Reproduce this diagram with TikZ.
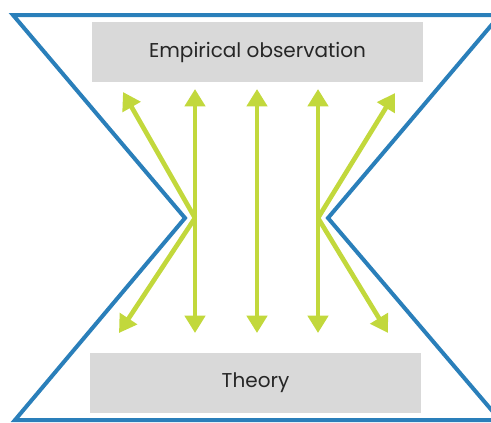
\documentclass[tikz,border=0pt]{standalone}
\usepackage{fontspec}
\setmainfont{Poppins}
\usetikzlibrary{arrows.meta}
\definecolor{frameblue}{HTML}{2A7FBA}
\definecolor{linkgreen}{HTML}{C2D83C}
\definecolor{boxgrey}{HTML}{D9D9D9}

\begin{document}
\begin{tikzpicture}[x=0.75pt, y=-0.75pt,
    >={Triangle[length=13pt, width=15pt]},
    frame/.style={draw=frameblue, line width=3pt},
    labelbox/.style={fill=boxgrey, minimum width=248pt, minimum height=45pt, inner sep=0pt,
        text=black!85, font=\fontsize{15}{17}\selectfont},
    link/.style={draw=linkgreen, line width=3.5pt}]
    \clip (0,0) rectangle (491,422);
    % hourglass outline
    \draw[frame] (13,15) -- (500,15) -- (328,218) -- (500,420) -- (15,420) -- (185,218) -- cycle;
    \node[labelbox] (obs) at (257.5,52) {Empirical observation};
    \node[labelbox] (theory) at (255.5,383) {Theory};
    % vertical two-way arrows
    \foreach \x [count=\i] in {195,257,318} {
        \coordinate (top\i) at (\x,89);
        \coordinate (bot\i) at (\x,333);
        \draw[link, <->] (top\i) -- (bot\i);
    }
    % diagonal arrows
    \coordinate (lhub) at (195,218);
    \coordinate (rhub) at (318,218);
    \coordinate (lup) at (123,92);
    \coordinate (llo) at (119,333);
    \coordinate (rup) at (395,93);
    \coordinate (rlo) at (388,333);
    \draw[link, ->] (lhub) -- (lup);
    \draw[link, ->] (lhub) -- (llo);
    \draw[link, ->] (rhub) -- (rup);
    \draw[link, ->] (rhub) -- (rlo);
\end{tikzpicture}
\end{document}
